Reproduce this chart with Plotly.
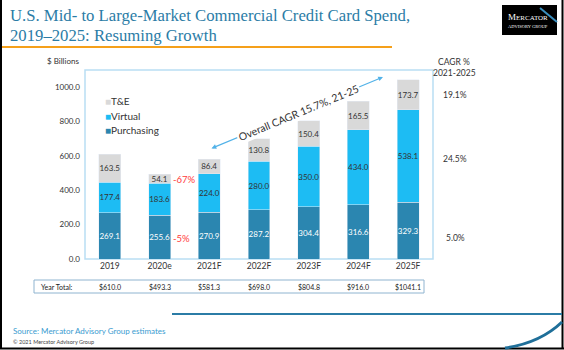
import plotly.graph_objects as go

years = ["2019", "2020e", "2021F", "2022F", "2023F", "2024F", "2025F"]
purchasing = [269.1, 255.6, 270.9, 287.2, 304.4, 316.6, 329.3]
virtual = [177.4, 183.6, 224.0, 280.0, 350.0, 434.0, 538.1]
tande = [163.5, 54.1, 86.4, 130.8, 150.4, 165.5, 173.7]
totals = ["$610.0", "$493.3", "$581.3", "$698.0", "$804.8", "$916.0", "$1041.1"]
cagr_labels = ["19.1%", "24.5%", "5.0%"]
yticks = [0, 200, 400, 600, 800, 1000]

W, H = 564, 350
L, R, T, B = 85, 433, 70, 259


def px(x):
    return (x - L) / (R - L)


def py(y):
    return (B - y) / (B - T)


C_PUR = "#2b86b0"
C_VIR = "#1dbcf3"
C_TE = "#d9d9d9"
TEAL = "#2b7ca6"
FONT = "Lato"

fig = go.Figure()
fig.add_bar(x=years, y=purchasing, name="Purchasing", marker_color=C_PUR,
            texttemplate="%{y:.1f}", textposition="inside", insidetextanchor="middle",
            textangle=0, textfont=dict(color="white", size=8, family=FONT))
fig.add_bar(x=years, y=virtual, name="Virtual", marker_color=C_VIR,
            texttemplate="%{y:.1f}", textposition="inside", insidetextanchor="middle",
            textangle=0, textfont=dict(color="#333333", size=8, family=FONT))
fig.add_bar(x=years, y=tande, name="T&E", marker_color=C_TE,
            texttemplate="%{y:.1f}", textposition="inside", insidetextanchor="middle",
            textangle=0, textfont=dict(color="#333333", size=8, family=FONT))

ann = []
shapes = []

# title
ann.append(dict(text="U.S. Mid- to Large-Market Commercial Credit Card Spend,", x=px(8), y=py(15),
                xanchor="left", yanchor="middle", font=dict(family="Liberation Serif", size=16.7, color=TEAL)))
ann.append(dict(text="2019–2025: Resuming Growth", x=px(8), y=py(36),
                xanchor="left", yanchor="middle", font=dict(family="Liberation Serif", size=16.7, color=TEAL)))
shapes.append(dict(type="line", x0=px(0), x1=px(392), y0=py(47), y1=py(47),
                   line=dict(color="#f5a01a", width=2)))

# logo
shapes.append(dict(type="rect", x0=px(502), x1=px(557), y0=py(5), y1=py(35),
                   fillcolor="black", line=dict(width=0)))
shapes.append(dict(type="line", x0=px(540), x1=px(557), y0=py(8), y1=py(22),
                   line=dict(color="#3a8fbf", width=2)))
ann.append(dict(text="M<span style='font-size:7px'>ERCATOR</span>", x=px(528), y=py(17),
                xanchor="center", yanchor="middle", font=dict(family="Liberation Serif", size=9, color="white")))
ann.append(dict(text="ADVISORY GROUP", x=px(528), y=py(26),
                xanchor="center", yanchor="middle", font=dict(family="Liberation Serif", size=4.5, color="white")))

# frame
shapes.append(dict(type="line", x0=px(1), x1=px(1), y0=py(0), y1=py(349),
                   line=dict(color="black", width=2)))
shapes.append(dict(type="line", x0=px(562.5), x1=px(562.5), y0=py(0), y1=py(349),
                   line=dict(color="black", width=2)))
shapes.append(dict(type="line", x0=px(0), x1=px(564), y0=py(348.5), y1=py(348.5),
                   line=dict(color="black", width=2)))

# plot box
shapes.append(dict(type="rect", x0=0, x1=1, y0=0, y1=1,
                   line=dict(color="#b9def4", width=1.5)))

ann.append(dict(text="$ Billions", x=px(63), y=py(61), xanchor="center", yanchor="middle",
                font=dict(family=FONT, size=8, color="#333333")))

# legend (manual)
for name, col, yy in [("T&E", C_TE, 101), ("Virtual", C_VIR, 115.5), ("Purchasing", C_PUR, 130)]:
    ann.append(dict(text=f"<span style='color:{col}'>■</span>{name}", x=px(103), y=py(yy),
                    xanchor="left", yanchor="middle", font=dict(family=FONT, size=10, color="#333333")))

# red change annotations
ann.append(dict(text="-67%", x=px(171), y=py(179), xanchor="left", yanchor="middle",
                font=dict(family=FONT, size=9.5, color="#ff3b3b")))
ann.append(dict(text="-5%", x=px(171), y=py(238), xanchor="left", yanchor="middle",
                font=dict(family=FONT, size=9.5, color="#ff3b3b")))

# CAGR arrow
ann.append(dict(text="", x=px(383), y=py(77), ax=210 - 383, ay=149 - 77, showarrow=True,
                arrowside="end+start", arrowhead=2, arrowsize=0.8, arrowwidth=1.2,
                arrowcolor="#52b2e8"))
ann.append(dict(text="Overall CAGR 15.7%, 21-25", x=px(298), y=py(113), textangle=-22.5,
                showarrow=False, bgcolor="white", xanchor="center", yanchor="middle",
                font=dict(family=FONT, size=10.5, color="#333333")))

# right CAGR labels
ann.append(dict(text="CAGR %", x=px(454), y=py(62), xanchor="center", yanchor="middle",
                font=dict(family=FONT, size=8.5, color="#333333")))
ann.append(dict(text="2021-2025", x=px(454), y=py(73), xanchor="center", yanchor="middle",
                font=dict(family=FONT, size=8.5, color="#333333")))
for lab, yy in zip(cagr_labels, [95, 159, 238]):
    ann.append(dict(text=lab, x=px(455), y=py(yy), xanchor="center", yanchor="middle",
                    font=dict(family=FONT, size=8.5, color="#333333")))

# year total table
shapes.append(dict(type="rect", x0=px(34), x1=px(424), y0=py(280), y1=py(293),
                   line=dict(color="#8fb4d0", width=1)))
ann.append(dict(text="Year Total:", x=px(39), y=py(286.5), xanchor="left", yanchor="middle",
                font=dict(family=FONT, size=7, color="#222222")))
for i, t in enumerate(totals):
    ann.append(dict(text=t, x=i, xref="x", y=py(286.5), xanchor="center", yanchor="middle",
                    font=dict(family=FONT, size=7, color="#222222")))

# footer
shapes.append(dict(type="line", x0=px(172), x1=px(562), y0=py(314), y1=py(314),
                   line=dict(color=TEAL, width=2)))
shapes.append(dict(type="path",
                   path=f"M {px(505)},{py(348)} Q {px(540)},{py(343)} {px(562)},{py(322)}",
                   line=dict(color="#1f6f99", width=3)))
ann.append(dict(text="Source: Mercator Advisory Group estimates", x=px(11), y=py(331),
                xanchor="left", yanchor="middle", font=dict(family=FONT, size=8, color="#3a9bd0")))
ann.append(dict(text="© 2021 Mercator Advisory Group", x=px(11), y=py(342),
                xanchor="left", yanchor="middle", font=dict(family=FONT, size=5.5, color="#444444")))

for a in ann:
    a.setdefault("xref", "paper")
    a.setdefault("yref", "paper")
    a.setdefault("showarrow", False)
    if a.get("showarrow"):
        a["axref"] = "pixel"
        a["ayref"] = "pixel"
for s in shapes:
    s.setdefault("xref", "paper")
    s.setdefault("yref", "paper")
    s["layer"] = "above" if s["type"] != "rect" or s.get("fillcolor") == "black" else "below"

fig.update_layout(
    width=W, height=H, barmode="stack", bargap=0.56, showlegend=False,
    margin=dict(l=L, r=W - R, t=T, b=H - B, pad=0),
    paper_bgcolor="white", plot_bgcolor="white",
    font=dict(family=FONT, color="#333333"),
    uniformtext=dict(minsize=8, mode="show"),
    annotations=ann, shapes=shapes,
    xaxis=dict(showgrid=False, showline=False, zeroline=False, ticks="",
               tickfont=dict(size=8.5, color="#333333", family=FONT)),
    yaxis=dict(range=[0, 1099], tickvals=yticks, tickformat=".1f", showgrid=False,
               zeroline=False, showline=False, ticks="", ticklabelstandoff=4,
               tickfont=dict(size=8, color="#333333", family=FONT)),
)

fig.write_html("out.html")
